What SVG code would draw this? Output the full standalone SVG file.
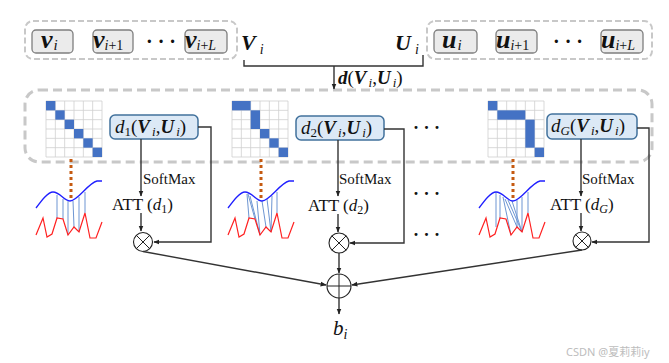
<svg xmlns="http://www.w3.org/2000/svg" width="669" height="363" viewBox="0 0 669 363">
<style>
text{font-family:"Liberation Serif","DejaVu Serif",serif;fill:#111}
.bi{font-weight:bold;font-style:italic}
.it{font-style:italic}
.tok{fill:#ebebeb;stroke:#7f7f7f;stroke-width:1.3}
.grpbox{fill:none;stroke:#c8c8c8;stroke-width:2;stroke-dasharray:6,3}
.bigbox{fill:none;stroke:#c8c8c8;stroke-width:3;stroke-dasharray:9,5}
.dbox{fill:#dce9f6;stroke:#41719c;stroke-width:1.5}
.ln{fill:none;stroke:#333;stroke-width:1.4}
.op{fill:#fff;stroke:#222;stroke-width:1.1}
.opl{stroke:#222;stroke-width:1}
.on{fill:#4472c4}
.dot{stroke:#c55a11;stroke-width:3;stroke-dasharray:3,3}
.blue{fill:none;stroke:#1f1fff;stroke-width:1.3}
.red{fill:none;stroke:#ff2020;stroke-width:1.2}
.warp{stroke:#4a7cc8;stroke-width:1;opacity:0.8}
.sm{font-size:15px}
.att{font-size:17px}
.tk{font-size:26px}
</style>
<defs>
<marker id="ah" viewBox="0 0 10 10" refX="9" refY="5" markerWidth="6" markerHeight="6" orient="auto" markerUnits="userSpaceOnUse">
<path d="M0,1 L10,5 L0,9 z" fill="#222"/>
</marker>
<g id="wave">
<path class="blue" d="M0,27 C6,19 12,11 17,11 C24,11 28,20 34,20 C42,20 52,2 61,0 L66,0"/>
<polyline class="red" points="0,54 7,37 11,56 16,53 21,37 27,38 32,54 38,46 43,51 49,32 54,57 60,57 66,41"/>
</g>
<path id="gridlines" fill="#fff" stroke="#cfcfcf" stroke-width="0.8" d="M0,0H56V56H0Z M9.33,0V56 M18.67,0V56 M28,0V56 M37.33,0V56 M46.67,0V56 M0,9.33H56 M0,18.67H56 M0,28H56 M0,37.33H56 M0,46.67H56"/>
</defs>

<!-- top token groups -->
<g id="V-group">
<rect class="grpbox" x="25" y="21" width="212" height="38" rx="8"/>
<rect class="tok" x="32" y="30" width="41" height="23" rx="4"/>
<text class="tk" x="41" y="48"><tspan class="bi">v</tspan><tspan class="it" font-size="15" dx="1" dy="2">i</tspan></text>
<rect class="tok" x="93" y="30" width="40" height="23" rx="4"/>
<text class="tk" x="93" y="48"><tspan class="bi">v</tspan><tspan class="it" font-size="14" dy="2">i</tspan><tspan font-size="14">+1</tspan></text>
<text x="146" y="48" font-size="20" font-weight="bold">· · ·</text>
<rect class="tok" x="185" y="30" width="42" height="23" rx="4"/>
<text class="tk" x="185" y="48"><tspan class="bi">v</tspan><tspan class="it" font-size="14" dy="2">i</tspan><tspan font-size="14">+</tspan><tspan class="it" font-size="14">L</tspan></text>
<text x="241" y="50" font-size="22"><tspan class="bi">V</tspan><tspan class="it" font-size="14" dx="4" dy="4">i</tspan></text>
</g>
<g id="U-group">
<rect class="grpbox" x="427" y="21" width="225" height="38" rx="8"/>
<text x="395" y="50" font-size="22"><tspan class="bi">U</tspan><tspan class="it" font-size="14" dx="4" dy="4">i</tspan></text>
<rect class="tok" x="434" y="30" width="43" height="23" rx="4"/>
<text class="tk" x="442" y="48"><tspan class="bi">u</tspan><tspan class="it" font-size="15" dx="1" dy="2">i</tspan></text>
<rect class="tok" x="496" y="30" width="41" height="23" rx="4"/>
<text class="tk" x="496" y="48"><tspan class="bi">u</tspan><tspan class="it" font-size="14" dy="2">i</tspan><tspan font-size="14">+1</tspan></text>
<text x="553" y="48" font-size="20" font-weight="bold">· · ·</text>
<rect class="tok" x="601" y="30" width="42" height="23" rx="4"/>
<text class="tk" x="601" y="48"><tspan class="bi">u</tspan><tspan class="it" font-size="14" dy="2">i</tspan><tspan font-size="14">+</tspan><tspan class="it" font-size="14">L</tspan></text>
</g>

<!-- main dashed region -->
<g id="distance-region">
<rect class="bigbox" x="25" y="90" width="627" height="72" rx="14"/>
</g>

<!-- matrices -->
<g id="matrix1" transform="translate(46,101)">
<use href="#gridlines"/>
<g class="on">
<rect x="0" y="0" width="9.33" height="9.33"/><rect x="9.33" y="9.33" width="9.33" height="9.33"/><rect x="18.67" y="18.67" width="9.33" height="9.33"/><rect x="28" y="28" width="9.33" height="9.33"/><rect x="37.33" y="37.33" width="9.33" height="9.33"/><rect x="46.67" y="46.67" width="9.33" height="9.33"/>
</g>
</g>
<g id="matrix2" transform="translate(232,101)">
<use href="#gridlines"/>
<g class="on">
<rect x="0" y="0" width="18.67" height="9.33"/><rect x="18.67" y="9.33" width="9.33" height="18.67"/><rect x="28" y="28" width="9.33" height="9.33"/><rect x="37.33" y="37.33" width="9.33" height="9.33"/><rect x="46.67" y="46.67" width="9.33" height="9.33"/>
</g>
</g>
<g id="matrix3" transform="translate(488,101)">
<use href="#gridlines"/>
<g class="on">
<rect x="0" y="0" width="9.33" height="9.33"/><rect x="9.33" y="9.33" width="28" height="9.33"/><rect x="37.33" y="18.67" width="9.33" height="28"/><rect x="46.67" y="46.67" width="9.33" height="9.33"/>
</g>
</g>

<!-- dotted links -->
<g id="dotted-links">
<line class="dot" x1="71" y1="159" x2="71" y2="198"/>
<line class="dot" x1="261" y1="159" x2="261" y2="198"/>
<line class="dot" x1="513" y1="159" x2="513" y2="198"/>
</g>

<!-- waves -->
<g id="wave1" transform="translate(36,181)">
<g class="warp"><line x1="21" y1="14" x2="21" y2="37"/><line x1="27" y1="18" x2="27" y2="38"/><line x1="32" y1="20" x2="32" y2="54"/><line x1="37" y1="20" x2="38" y2="46"/><line x1="43" y1="16" x2="43" y2="51"/><line x1="49" y1="11" x2="49" y2="32"/></g>
<use href="#wave"/>
</g>
<g id="wave2" transform="translate(228,181)">
<g class="warp"><line x1="19" y1="13" x2="21" y2="37"/><line x1="20" y1="13" x2="27" y2="38"/><line x1="22" y1="15" x2="32" y2="54"/><line x1="29" y1="20" x2="32" y2="54"/><line x1="34" y1="20" x2="38" y2="46"/><line x1="39" y1="18" x2="43" y2="51"/><line x1="44" y1="15" x2="43" y2="51"/><line x1="49" y1="11" x2="49" y2="32"/></g>
<use href="#wave"/>
</g>
<g id="wave3" transform="translate(479,181)">
<g class="warp"><line x1="17" y1="11" x2="17" y2="46"/><line x1="21" y1="14" x2="21" y2="37"/><line x1="24" y1="16" x2="32" y2="54"/><line x1="26" y1="18" x2="38" y2="46"/><line x1="29" y1="19" x2="43" y2="51"/><line x1="33" y1="20" x2="43" y2="51"/><line x1="38" y1="19" x2="38" y2="46"/><line x1="43" y1="16" x2="43" y2="51"/><line x1="49" y1="11" x2="49" y2="32"/></g>
<use href="#wave"/>
</g>

<!-- d boxes -->
<g id="d1">
<rect class="dbox" x="110" y="115" width="88" height="24" rx="5"/>
<text x="115" y="133" font-size="19"><tspan class="it">d</tspan><tspan font-size="13" dy="3">1</tspan><tspan dy="-3">(</tspan><tspan class="bi">V</tspan><tspan class="it" font-size="13" dx="2" dy="3">i</tspan><tspan dy="-3">,</tspan><tspan class="bi">U</tspan><tspan class="it" font-size="13" dx="2" dy="3">i</tspan><tspan dy="-3">)</tspan></text>
</g>
<g id="d2">
<rect class="dbox" x="296" y="116" width="88" height="24" rx="5"/>
<text x="301" y="134" font-size="19"><tspan class="it">d</tspan><tspan font-size="13" dy="3">2</tspan><tspan dy="-3">(</tspan><tspan class="bi">V</tspan><tspan class="it" font-size="13" dx="2" dy="3">i</tspan><tspan dy="-3">,</tspan><tspan class="bi">U</tspan><tspan class="it" font-size="13" dx="2" dy="3">i</tspan><tspan dy="-3">)</tspan></text>
</g>
<g id="dG">
<rect class="dbox" x="547" y="114" width="90" height="25" rx="5"/>
<text x="551" y="132" font-size="19"><tspan class="it">d</tspan><tspan class="it" font-size="13" dy="3">G</tspan><tspan dy="-3">(</tspan><tspan class="bi">V</tspan><tspan class="it" font-size="13" dx="2" dy="3">i</tspan><tspan dy="-3">,</tspan><tspan class="bi">U</tspan><tspan class="it" font-size="13" dx="2" dy="3">i</tspan><tspan dy="-3">)</tspan></text>
</g>

<!-- labels -->
<g id="labels">
<text class="sm" x="143" y="184">SoftMax</text>
<text class="att" x="112" y="210">ATT (<tspan class="it">d</tspan><tspan font-size="12" dy="3">1</tspan><tspan dy="-3">)</tspan></text>
<text class="sm" x="339" y="184">SoftMax</text>
<text class="att" x="308" y="211">ATT (<tspan class="it">d</tspan><tspan font-size="12" dy="3">2</tspan><tspan dy="-3">)</tspan></text>
<text class="sm" x="582" y="184">SoftMax</text>
<text class="att" x="550" y="210">ATT (<tspan class="it">d</tspan><tspan class="it" font-size="12" dy="3">G</tspan><tspan dy="-3">)</tspan></text>
<text x="413" y="134" font-size="18" font-weight="bold">· · ·</text>
<text x="413" y="200" font-size="18" font-weight="bold">· · ·</text>
<text x="413" y="241" font-size="18" font-weight="bold">· · ·</text>
<text x="338" y="84" font-size="19"><tspan class="bi">d</tspan>(<tspan class="bi">V</tspan><tspan class="it" font-size="13" dx="2" dy="3">i</tspan><tspan dy="-3">,</tspan><tspan class="bi">U</tspan><tspan class="it" font-size="13" dx="2" dy="3">i</tspan><tspan dy="-3">)</tspan></text>
<text x="333" y="335" font-size="21"><tspan class="it">b</tspan><tspan class="it" font-size="14" dy="4">i</tspan></text>
<text x="566" y="356" font-size="11" style="font-family:'Noto Sans','Noto Sans CJK SC',sans-serif;fill:#bdbdbd">CSDN @夏莉莉iy</text>
</g>

<!-- operators -->
<g id="mul1"><circle class="op" cx="143" cy="242" r="9.5"/><path class="opl" d="M136.3,235.3L149.7,248.7M149.7,235.3L136.3,248.7"/></g>
<g id="mul2"><circle class="op" cx="339" cy="243" r="10"/><path class="opl" d="M331.9,235.9L346.1,250.1M346.1,235.9L331.9,250.1"/></g>
<g id="mulG"><circle class="op" cx="582" cy="241" r="9"/><path class="opl" d="M575.6,234.6L588.4,247.4M588.4,234.6L575.6,247.4"/></g>
<g id="sum"><circle class="op" cx="339" cy="286" r="12"/><path class="opl" d="M327,286H351M339,274V298"/></g>

<!-- connectors -->
<g id="connectors">
<path class="ln" d="M244,60 V66 H423 V55"/>
<line class="ln" x1="334" y1="66" x2="334" y2="89" marker-end="url(#ah)"/>
<line class="ln" x1="141" y1="139" x2="141" y2="196" marker-end="url(#ah)"/>
<line class="ln" x1="141" y1="213" x2="141" y2="231" marker-end="url(#ah)"/>
<path class="ln" d="M198,127 H211 V242 H154" marker-end="url(#ah)"/>
<line class="ln" x1="338" y1="140" x2="338" y2="196" marker-end="url(#ah)"/>
<line class="ln" x1="338" y1="214" x2="338" y2="232" marker-end="url(#ah)"/>
<path class="ln" d="M384,129 H404 V243 H350" marker-end="url(#ah)"/>
<line class="ln" x1="581" y1="139" x2="581" y2="196" marker-end="url(#ah)"/>
<line class="ln" x1="581" y1="213" x2="581" y2="231" marker-end="url(#ah)"/>
<path class="ln" d="M637,128 H649 V242 H592" marker-end="url(#ah)"/>
<line class="ln" x1="143" y1="251.5" x2="326" y2="285" marker-end="url(#ah)"/>
<line class="ln" x1="582" y1="250" x2="352" y2="285" marker-end="url(#ah)"/>
<line class="ln" x1="339" y1="253" x2="339" y2="273" marker-end="url(#ah)"/>
<line class="ln" x1="339" y1="298" x2="339" y2="314" marker-end="url(#ah)"/>
</g>
</svg>
